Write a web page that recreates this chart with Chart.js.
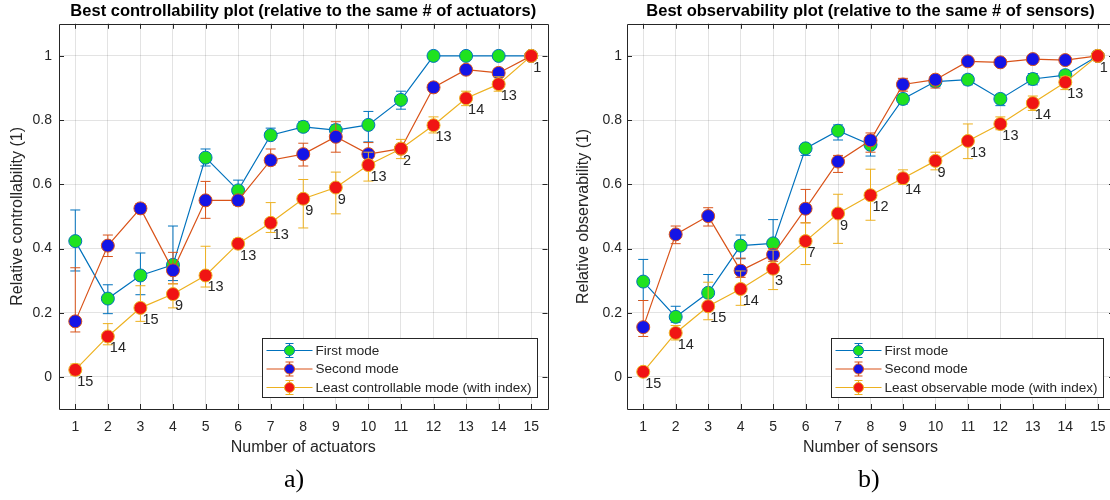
<!DOCTYPE html>
<html>
<head>
<meta charset="utf-8">
<script src="https://cdn.jsdelivr.net/npm/chart.js@4.4.1/dist/chart.umd.min.js"></script>
<style>
  html, body { margin: 0; padding: 0; background: #fff; }
  #wrap { position: relative; width: 1110px; height: 500px; overflow: hidden; background: #fff; }
  .pane { position: absolute; top: 0; }
  .cap { position: absolute; top: 464px; font: 26px "Liberation Serif", "Times New Roman", serif; color: #000; }
</style>
</head>
<body>
<div id="wrap">
  <div class="pane" style="left:0"><canvas id="chart-ctrl" width="555" height="470"></canvas></div>
  <div class="pane" style="left:555px"><canvas id="chart-obs" width="575" height="470"></canvas></div>
  <div class="cap" style="left:284px">a)</div>
  <div class="cap" style="left:858px">b)</div>
</div>
<script>
// ---- data ----
const counts = ['1','2','3','4','5','6','7','8','9','10','11','12','13','14','15'];
const seriesCtrl = ['First mode', 'Second mode', 'Least controllable mode (with index)'];
const seriesObs  = ['First mode', 'Second mode', 'Least observable mode (with index)'];
const yTicks = [0, 0.2, 0.4, 0.6, 0.8, 1];

// a) controllability
const ctrlFirst    = [0.423, 0.244, 0.316, 0.349, 0.683, 0.581, 0.753, 0.779, 0.769, 0.785, 0.863, 1.0, 1.0, 1.0, 1.0];
const ctrlFirstLo  = [0.33, 0.197, 0.256, 0.30, 0.657, 0.55, 0.74, 0.765, 0.755, 0.732, 0.834, 1.0, 1.0, 1.0, 1.0];
const ctrlFirstHi  = [0.52, 0.287, 0.386, 0.47, 0.71, 0.613, 0.775, 0.795, 0.785, 0.827, 0.89, 1.0, 1.0, 1.0, 1.0];
const ctrlSecond   = [0.173, 0.409, 0.525, 0.332, 0.55, 0.55, 0.675, 0.694, 0.748, 0.694, 0.711, 0.902, 0.957, 0.947, 1.0];
const ctrlSecondLo = [0.14, 0.375, 0.51, 0.29, 0.494, 0.535, 0.66, 0.657, 0.70, 0.66, 0.70, 0.89, 0.945, 0.935, 1.0];
const ctrlSecondHi = [0.34, 0.442, 0.54, 0.388, 0.609, 0.565, 0.71, 0.728, 0.795, 0.73, 0.72, 0.915, 0.97, 0.96, 1.0];
const ctrlLeast    = [0.022, 0.126, 0.215, 0.258, 0.316, 0.415, 0.48, 0.555, 0.59, 0.66, 0.711, 0.784, 0.868, 0.912, 1.0];
const ctrlLeastLo  = [0.005, 0.10, 0.173, 0.215, 0.28, 0.40, 0.45, 0.464, 0.508, 0.61, 0.68, 0.76, 0.845, 0.89, 1.0];
const ctrlLeastHi  = [0.04, 0.166, 0.284, 0.29, 0.407, 0.43, 0.543, 0.615, 0.638, 0.70, 0.74, 0.81, 0.89, 0.935, 1.0];
const ctrlIndex    = [15, 14, 15, 9, 13, 13, 13, 9, 9, 13, 2, 13, 14, 13, 1];

// b) observability
const obsFirst    = [0.297, 0.187, 0.262, 0.409, 0.416, 0.712, 0.767, 0.723, 0.866, 0.92, 0.926, 0.866, 0.928, 0.94, 1.0];
const obsFirstLo  = [0.238, 0.17, 0.22, 0.368, 0.39, 0.69, 0.738, 0.688, 0.85, 0.905, 0.91, 0.845, 0.91, 0.925, 1.0];
const obsFirstHi  = [0.366, 0.22, 0.319, 0.442, 0.49, 0.725, 0.785, 0.75, 0.88, 0.935, 0.94, 0.88, 0.945, 0.955, 1.0];
const obsSecond   = [0.155, 0.444, 0.501, 0.331, 0.381, 0.524, 0.671, 0.737, 0.911, 0.926, 0.983, 0.98, 0.99, 0.987, 1.0];
const obsSecondLo = [0.126, 0.415, 0.47, 0.31, 0.36, 0.48, 0.637, 0.70, 0.89, 0.90, 0.975, 0.97, 0.98, 0.975, 1.0];
const obsSecondHi = [0.238, 0.47, 0.527, 0.37, 0.40, 0.584, 0.69, 0.76, 0.93, 0.935, 0.99, 0.99, 1.0, 0.995, 1.0];
const obsLeast    = [0.016, 0.137, 0.22, 0.274, 0.337, 0.423, 0.509, 0.566, 0.619, 0.673, 0.735, 0.788, 0.853, 0.918, 1.0];
const obsLeastLo  = [0.005, 0.115, 0.178, 0.223, 0.272, 0.35, 0.416, 0.488, 0.60, 0.645, 0.68, 0.77, 0.83, 0.895, 1.0];
const obsLeastHi  = [0.03, 0.16, 0.295, 0.33, 0.395, 0.48, 0.569, 0.647, 0.645, 0.70, 0.788, 0.81, 0.875, 0.935, 1.0];
const obsIndex    = [15, 14, 15, 14, 3, 7, 9, 12, 14, 9, 13, 13, 14, 13, 1];

(function () {
  'use strict';

  const FONT = '"Liberation Sans", Arial, Helvetica, sans-serif';
  const AXIS = '#262626';
  const COLORS = {
    line:  ['#0072BD', '#D95319', '#EDB120'],
    face:  ['#1fe21f', '#1414e6', '#f01414'],
    grid:  'rgba(0, 0, 0, 0.11)',
  };

  function makeSet(i, label, data, lo, hi, idx) {
    return {
      label, data,
      errLo: lo, errHi: hi, pointIdx: idx || null,
      borderColor: COLORS.line[i],
      backgroundColor: COLORS.face[i],
      pointBackgroundColor: COLORS.face[i],
      pointBorderColor: COLORS.line[i],
      pointBorderWidth: 1,
      pointRadius: 6.5,
      pointHoverRadius: 6.5,
      borderWidth: 1.2,
      tension: 0,
      order: 3 - i,
    };
  }

  // matlab-ish details: error bars, index labels, box + inward ticks, framed legend
  const matlabLook = {
    id: 'matlabLook',
    beforeDatasetDraw(chart, args) {
      const ds = chart.data.datasets[args.index];
      const y = chart.scales.y;
      const ctx = chart.ctx;
      ctx.save();
      ctx.strokeStyle = ds.borderColor;
      ctx.lineWidth = 1;
      args.meta.data.forEach((pt, i) => {
        const yl = y.getPixelForValue(ds.errLo[i]);
        const yh = y.getPixelForValue(ds.errHi[i]);
        ctx.beginPath();
        ctx.moveTo(pt.x, yl); ctx.lineTo(pt.x, yh);
        ctx.moveTo(pt.x - 5, yl); ctx.lineTo(pt.x + 5, yl);
        ctx.moveTo(pt.x - 5, yh); ctx.lineTo(pt.x + 5, yh);
        ctx.stroke();
      });
      ctx.restore();
    },
    afterDatasetsDraw(chart) {
      const ctx = chart.ctx;
      ctx.save();
      ctx.fillStyle = AXIS;
      ctx.font = '14.5px ' + FONT;
      ctx.textAlign = 'left';
      ctx.textBaseline = 'middle';
      chart.data.datasets.forEach((ds, di) => {
        if (!ds.pointIdx) return;
        chart.getDatasetMeta(di).data.forEach((pt, i) => {
          ctx.fillText(String(ds.pointIdx[i]), pt.x + 2, pt.y + 12);
        });
      });
      ctx.restore();
    },
    afterDraw(chart) {
      const a = chart.chartArea;
      const ctx = chart.ctx;
      const xs = chart.scales.x, ys = chart.scales.y;
      ctx.save();
      ctx.strokeStyle = AXIS;
      ctx.lineWidth = 1;
      ctx.beginPath();
      ctx.rect(Math.round(a.left) + 0.5, Math.round(a.top) + 0.5,
               Math.round(a.right - a.left), Math.round(a.bottom - a.top));
      xs.ticks.forEach((t, i) => {
        const px = Math.round(xs.getPixelForTick(i)) + 0.5;
        ctx.moveTo(px, a.bottom); ctx.lineTo(px, a.bottom - 5);
        ctx.moveTo(px, a.top); ctx.lineTo(px, a.top + 5);
      });
      ys.ticks.forEach((t) => {
        const py = Math.round(ys.getPixelForValue(t.value)) + 0.5;
        ctx.moveTo(a.left, py); ctx.lineTo(a.left + 5, py);
        ctx.moveTo(a.right, py); ctx.lineTo(a.right - 5, py);
      });
      ctx.stroke();

      // legend box (south-east)
      const names = chart.data.datasets.map(d => d.label);
      ctx.font = '13.5px ' + FONT;
      const tw = Math.max(...names.map(n => ctx.measureText(n).width));
      const w = Math.round(53 + tw + 6), h = 59;
      const x0 = Math.round(a.right - 11 - w) + 0.5, y0 = Math.round(a.bottom - 12 - h) + 0.5;
      ctx.fillStyle = '#fff';
      ctx.fillRect(x0, y0, w, h);
      ctx.strokeStyle = AXIS;
      ctx.strokeRect(x0, y0, w, h);
      chart.data.datasets.forEach((ds, i) => {
        const cy = y0 + 12 + i * 18.5;
        const cx = x0 + 27;
        ctx.strokeStyle = ds.borderColor;
        ctx.lineWidth = 1.2;
        ctx.beginPath();
        ctx.moveTo(x0 + 4, cy); ctx.lineTo(x0 + 50, cy);
        ctx.moveTo(cx, cy - 7); ctx.lineTo(cx, cy + 7);
        ctx.moveTo(cx - 4, cy - 7); ctx.lineTo(cx + 4, cy - 7);
        ctx.moveTo(cx - 4, cy + 7); ctx.lineTo(cx + 4, cy + 7);
        ctx.stroke();
        ctx.beginPath();
        ctx.arc(cx, cy, 5, 0, Math.PI * 2);
        ctx.fillStyle = ds.pointBackgroundColor;
        ctx.fill();
        ctx.lineWidth = 1;
        ctx.stroke();
        ctx.fillStyle = AXIS;
        ctx.textAlign = 'left';
        ctx.textBaseline = 'middle';
        ctx.fillText(ds.label, x0 + 53, cy + 0.5);
      });
      ctx.restore();
    },
  };

  function buildChart(id, o) {
    const ctx = document.getElementById(id);
    return new Chart(ctx, {
      type: 'line',
      data: { labels: counts, datasets: o.sets },
      plugins: [matlabLook],
      options: {
        responsive: false,
        animation: false,
        devicePixelRatio: 1,
        layout: { padding: { left: 0, right: o.padRight, top: 0, bottom: 13 } },
        plugins: {
          legend: { display: false },
          tooltip: { enabled: false },
          title: {
            display: true,
            text: o.title,
            fullSize: false,
            color: '#000',
            font: { family: FONT, size: 16.5, weight: 'bold' },
            padding: { top: 2, bottom: 2 },
          },
        },
        scales: {
          x: {
            type: 'category',
            offset: true,
            grid: { color: COLORS.grid, drawTicks: false, offset: false },
            border: { display: false },
            ticks: { color: AXIS, font: { family: FONT, size: 14 }, padding: 10, maxRotation: 0, autoSkip: false },
            title: {
              display: true, text: o.xTitle, color: AXIS,
              font: { family: FONT, size: 16 }, padding: { top: -8, bottom: 0 },
            },
          },
          y: {
            type: 'linear',
            min: -0.1, max: 1.1,
            bounds: 'data',
            afterFit: (s) => { s.width = o.yWidth; },
            grid: { color: COLORS.grid, drawTicks: false },
            border: { display: false },
            afterBuildTicks: (s) => { s.ticks = yTicks.map(v => ({ value: v })); },
            ticks: {
              color: AXIS, font: { family: FONT, size: 14 }, padding: o.yPad,
              callback: (v) => String(Math.round(v * 10) / 10),
            },
            title: {
              display: true, text: o.yTitle, color: AXIS,
              font: { family: FONT, size: 16 }, padding: { top: o.yTitlePad, bottom: 0 },
            },
          },
        },
      },
    });
  }

  buildChart('chart-ctrl', {
    title: 'Best controllability plot (relative to the same # of actuators)',
    xTitle: 'Number of actuators',
    yTitle: 'Relative controllability (1)',
    yWidth: 59, yPad: 7, yTitlePad: 8, padRight: 7,
    sets: [
      makeSet(0, seriesCtrl[0], ctrlFirst, ctrlFirstLo, ctrlFirstHi),
      makeSet(1, seriesCtrl[1], ctrlSecond, ctrlSecondLo, ctrlSecondHi),
      makeSet(2, seriesCtrl[2], ctrlLeast, ctrlLeastLo, ctrlLeastHi, ctrlIndex),
    ],
  });

  buildChart('chart-obs', {
    title: 'Best observability plot (relative to the same # of sensors)',
    xTitle: 'Number of sensors',
    yTitle: 'Relative observability (1)',
    yWidth: 72, yPad: 5, yTitlePad: 19, padRight: 16,
    sets: [
      makeSet(0, seriesObs[0], obsFirst, obsFirstLo, obsFirstHi),
      makeSet(1, seriesObs[1], obsSecond, obsSecondLo, obsSecondHi),
      makeSet(2, seriesObs[2], obsLeast, obsLeastLo, obsLeastHi, obsIndex),
    ],
  });
})();
</script>
</body>
</html>
